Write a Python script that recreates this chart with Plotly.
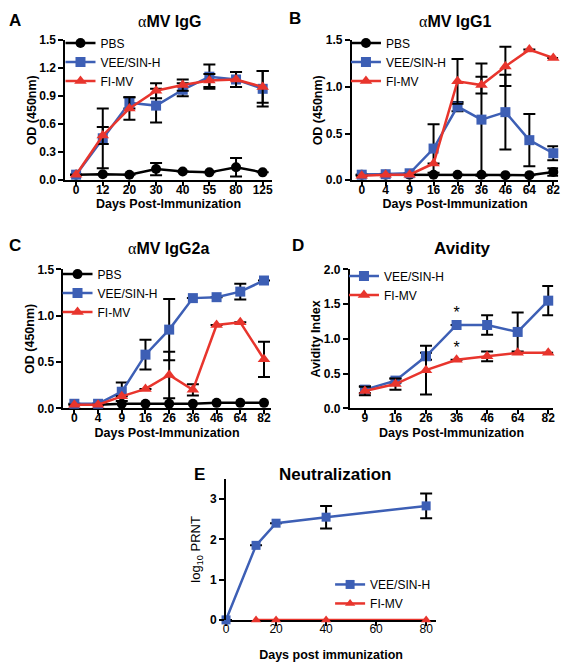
import plotly.graph_objects as go

W, H = 569, 668
BLUE = "#3D5FB5"
RED = "#E8352D"
BLACK = "#000000"
FONT = "Arial, Liberation Sans, Helvetica, sans-serif"

# ---------------- Panel A: aMV IgG ----------------
a_days = ["0", "12", "20", "30", "40", "55", "80", "125"]
a_pbs = [0.06, 0.065, 0.06, 0.12, 0.095, 0.085, 0.14, 0.085]
a_pbs_err = [None, None, None, 0.065, None, None, 0.10, None]
a_vee = [0.06, 0.45, 0.83, 0.80, 0.97, 1.11, 1.08, 0.98]
a_vee_err = [None, 0.32, 0.06, 0.18, 0.07, 0.13, 0.08, 0.19]
a_fi = [0.06, 0.48, 0.77, 0.96, 1.02, 1.07, 1.08, 1.00]
a_fi_err = [None, 0.09, 0.12, 0.08, 0.06, 0.07, 0.08, 0.17]

# ---------------- Panel B: aMV IgG1 ----------------
b_days = ["0", "4", "9", "16", "26", "36", "46", "64", "82"]
b_pbs = [0.06, 0.06, 0.06, 0.06, 0.06, 0.06, 0.055, 0.055, 0.09]
b_pbs_err = [None, None, None, None, None, None, None, None, 0.04]
b_vee = [0.06, 0.065, 0.075, 0.34, 0.79, 0.65, 0.73, 0.43, 0.29]
b_vee_err = [None, None, None, 0.26, 0.05, 0.60, 0.40, 0.28, 0.075]
b_fi = [0.05, 0.06, 0.06, 0.18, 1.06, 1.02, 1.22, 1.40, 1.31]
b_fi_err = [None, None, None, None, 0.24, 0.09, 0.21, None, None]

# ---------------- Panel C: aMV IgG2a ----------------
c_days = ["0", "4", "9", "16", "26", "36", "46", "64", "82"]
c_pbs = [0.04, 0.04, 0.05, 0.05, 0.05, 0.05, 0.06, 0.06, 0.06]
c_vee = [0.05, 0.05, 0.18, 0.58, 0.85, 1.19, 1.20, 1.26, 1.38]
c_vee_err = [None, None, 0.10, 0.16, 0.33, None, None, 0.085, None]
c_fi = [0.04, 0.04, 0.13, 0.21, 0.36, 0.20, 0.90, 0.93, 0.53]
c_fi_err = [None, None, None, None, 0.25, 0.06, None, None, 0.19]

# ---------------- Panel D: Avidity ----------------
d_days = ["9", "16", "26", "36", "46", "64", "82"]
d_vee = [0.27, 0.40, 0.75, 1.20, 1.20, 1.10, 1.55]
d_vee_err = [0.05, 0.03, 0.05, None, 0.14, 0.28, 0.21]
d_fi = [0.25, 0.35, 0.55, 0.70, 0.75, 0.80, 0.80]
d_fi_err = [0.06, 0.08, 0.35, None, 0.07, None, None]
d_star_days = ["36", "36"]
d_star_y = [1.36, 0.86]

# ---------------- Panel E: Neutralization ----------------
e_vee_days = [0, 12, 20, 40, 80]
e_vee = [0, 1.85, 2.40, 2.55, 2.83]
e_vee_err = [None, None, None, 0.28, 0.31]
e_fi_days = [12, 20, 40, 80]
e_fi = [0, 0, 0, 0]

fig = go.Figure()


def px_x(p):
    return p / W


def px_y(p):
    return 1 - p / H


def add_series(x, y, err, color, symbol, name, xa, ya, legend, size=10):
    fig.add_trace(go.Scatter(
        x=x, y=y, name=name, mode="lines+markers",
        line=dict(color=color, width=2.5),
        marker=dict(color=color, symbol=symbol, size=size),
        error_y=dict(type="data", array=err, color=BLACK, thickness=2, width=6, visible=True)
        if err is not None else None,
        xaxis=xa, yaxis=ya, legend=legend, cliponaxis=False,
    ))


# Panel A
add_series(a_days, a_pbs, a_pbs_err, BLACK, "circle", "PBS", "x", "y", "legend")
add_series(a_days, a_vee, a_vee_err, BLUE, "square", "VEE/SIN-H", "x", "y", "legend")
add_series(a_days, a_fi, a_fi_err, RED, "triangle-up", "FI-MV", "x", "y", "legend", 11)
# Panel B
add_series(b_days, b_pbs, b_pbs_err, BLACK, "circle", "PBS", "x2", "y2", "legend2")
add_series(b_days, b_vee, b_vee_err, BLUE, "square", "VEE/SIN-H", "x2", "y2", "legend2")
add_series(b_days, b_fi, b_fi_err, RED, "triangle-up", "FI-MV", "x2", "y2", "legend2", 11)
# Panel C
add_series(c_days, c_pbs, None, BLACK, "circle", "PBS", "x3", "y3", "legend3")
add_series(c_days, c_vee, c_vee_err, BLUE, "square", "VEE/SIN-H", "x3", "y3", "legend3")
add_series(c_days, c_fi, c_fi_err, RED, "triangle-up", "FI-MV", "x3", "y3", "legend3", 11)
# Panel D
add_series(d_days, d_vee, d_vee_err, BLUE, "square", "VEE/SIN-H", "x4", "y4", "legend4")
add_series(d_days, d_fi, d_fi_err, RED, "triangle-up", "FI-MV", "x4", "y4", "legend4", 11)
fig.add_trace(go.Scatter(x=d_star_days, y=d_star_y, mode="text", text=["*", "*"],
                         textfont=dict(family=FONT, size=16, color=BLACK),
                         xaxis="x4", yaxis="y4", showlegend=False, cliponaxis=False))
# Panel E
add_series(e_vee_days, e_vee, e_vee_err, BLUE, "square", "VEE/SIN-H", "x5", "y5", "legend5", 9)
add_series(e_fi_days, e_fi, None, RED, "triangle-up", "FI-MV", "x5", "y5", "legend5", 9)

tickfont = dict(family=FONT, size=12, color=BLACK)
axfont = dict(family=FONT, size=12.5, color=BLACK)


def xaxis(dom, rng, anchor, title, cat=True, tickvals=None, standoff=0):
    d = dict(domain=[px_x(dom[0]), px_x(dom[1])], range=rng, anchor=anchor,
             showline=True, linecolor=BLACK, linewidth=2, ticks="outside",
             ticklen=4, tickwidth=2, tickcolor=BLACK, showgrid=False, zeroline=False,
             tickfont=tickfont, fixedrange=True, ticklabelstandoff=-7,
             title=dict(text=title, font=axfont, standoff=standoff), layer="below traces")
    if cat:
        d["type"] = "category"
    if tickvals is not None:
        d["tickvals"] = tickvals
    d["tickprefix"] = "<b>"
    d["ticksuffix"] = "</b>"
    return d


def yaxis(dom, rng, anchor, title, dtick, fmt, tsize=12.5, standoff=0):
    return dict(domain=[px_y(dom[1]), px_y(dom[0])], range=rng, anchor=anchor,
                showline=True, linecolor=BLACK, linewidth=2, ticks="outside",
                ticklen=5, tickwidth=2, tickcolor=BLACK, showgrid=False, zeroline=False,
                tickfont=tickfont, dtick=dtick, tick0=0, tickformat=fmt, fixedrange=True,
                tickprefix="<b>", ticksuffix="</b>",
                title=dict(text=title, font=dict(family=FONT, size=tsize, color=BLACK),
                           standoff=standoff))


fig.update_layout(
    width=W, height=H, margin=dict(l=0, r=0, t=0, b=0),
    paper_bgcolor="white", plot_bgcolor="white",
    font=dict(family=FONT, color=BLACK),
    xaxis=xaxis((63, 271), [-0.4, 7.335], "y", "<b>Days Post-Immunization</b>", standoff=2),
    yaxis=yaxis((34, 177), [0, 1.5], "x", "<b>OD (450nm)</b>", 0.3, ".1f"),
    xaxis2=xaxis((352, 560), [-0.41, 8.2], "y2", "<b>Days Post-Immunization</b>", standoff=2),
    yaxis2=yaxis((34, 177), [0, 1.5], "x2", "<b>OD (450nm)</b>", 0.5, ".1f"),
    xaxis3=xaxis((61, 270), [-0.46, 8.28], "y3", "<b>Days Post-Immunization</b>", standoff=4),
    yaxis3=yaxis((268, 410), [0, 1.5], "x3", "<b>OD (450nm)</b>", 0.5, ".1f"),
    xaxis4=xaxis((350, 555), [-0.49, 6.16], "y4", "<b>Days Post-Immunization</b>", standoff=4),
    yaxis4=yaxis((268, 410), [0, 2.0], "x4", "<b>Avidity Index</b>", 0.5, ".1f"),
    xaxis5=xaxis((225, 437), [0, 84], "y5", "<b>Days post immunization</b>", cat=False,
                 tickvals=[0, 20, 40, 60, 80], standoff=15),
    yaxis5=yaxis((482, 626), [0, 3.5], "x5", "log<sub>10</sub> PRNT", 1, "d", 13, 6),
)

leg_common = dict(bgcolor="rgba(0,0,0,0)", font=dict(family=FONT, size=12, color=BLACK),
                  xanchor="left", yanchor="top", tracegroupgap=0, itemwidth=30)
fig.update_layout(
    legend=dict(x=px_x(58), y=px_y(22), **leg_common),
    legend2=dict(x=px_x(346), y=px_y(22), **leg_common),
    legend3=dict(x=px_x(55), y=px_y(258), **leg_common),
    legend4=dict(x=px_x(344), y=px_y(260), **leg_common),
    legend5=dict(x=px_x(330), y=px_y(575), **leg_common),
)

SERIF = "Liberation Serif, Times New Roman, serif"
titles = [
    (168, 15, "<span style='font-family:%s'>α</span><b>MV IgG</b>" % SERIF, 16),
    (457, 15, "<span style='font-family:%s'>α</span><b>MV IgG1</b>" % SERIF, 16),
    (167, 247, "<span style='font-family:%s'>α</span><b>MV IgG2a</b>" % SERIF, 16),
    (464, 247, "<b>Avidity</b>", 17),
    (335, 478, "<b>Neutralization</b>", 17),
    (12, 14, "<b>A</b>", 17),
    (295, 12, "<b>B</b>", 17),
    (12, 244, "<b>C</b>", 17),
    (298, 244, "<b>D</b>", 17),
    (198, 478, "<b>E</b>", 17),
]
for x, y, t, s in titles:
    fig.add_annotation(x=px_x(x), y=px_y(y), xref="paper", yref="paper", text=t,
                       showarrow=False, xanchor="center", yanchor="middle",
                       font=dict(family=FONT, size=s, color=BLACK))

fig.write_html("out.html", config={"displayModeBar": False},
               post_script="document.body.style.margin='0px';")
